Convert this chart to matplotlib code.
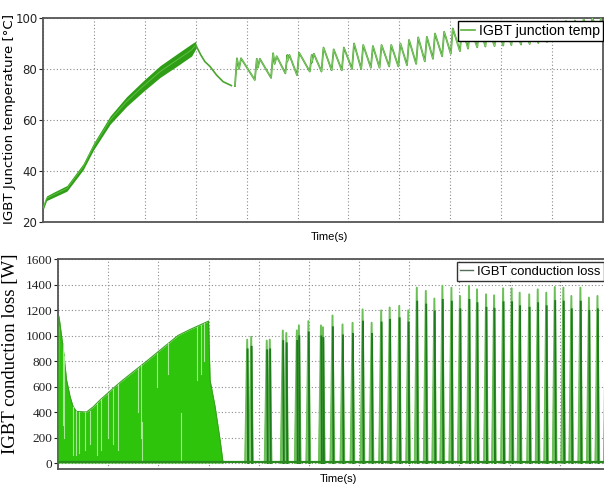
import numpy as np
import matplotlib.pyplot as plt
from matplotlib.lines import Line2D

# ---- IGBT junction temperature ----
# heating ramp (drawn as a thick band)
ramp_t = [0.0, 0.07, 0.20, 0.47, 0.79, 0.99, 1.32, 1.64, 1.97, 2.30, 2.63, 2.92, 3.0]
ramp_temp = [25.4, 29.3, 30.6, 33.2, 41.7, 49.5, 60.0, 67.2, 73.3, 79.0, 83.5, 87.5, 89.4]
ramp_half = [0.8, 0.9, 1.0, 1.1, 1.2, 1.3, 1.6, 1.9, 2.1, 2.3, 2.4, 2.4, 1.5]

# cooling after the ramp
cool_t = [3.0, 3.1, 3.18, 3.28, 3.41, 3.54, 3.70]
cool_temp = [89.4, 85.5, 82.9, 81.0, 77.6, 75.0, 73.5]

# pulse section
pulse_t = [3.77, 3.85, 4.16, 4.22, 4.48, 4.55, 4.76, 4.80, 4.99, 5.24, 5.28,
           5.47, 5.67, 5.87, 6.07, 6.25, 6.44, 6.61, 6.80, 6.98, 7.15, 7.33,
           7.50, 7.66, 7.84, 8.01, 8.19, 8.35, 8.53, 8.69, 8.87, 9.04, 9.20,
           9.39, 9.56, 9.73, 9.90, 10.07, 10.23, 10.41, 10.58, 10.75, 10.92]
temp_trough = [73.3, 80, 75.7, 80.5, 76.5, 82, 78.3, 83, 77.6, 79, 82.5,
               79, 79.5, 79.5, 80, 80, 80.5, 80.5, 81, 81, 81.5, 82,
               83, 84, 85, 86, 87, 88, 88.5, 88.8, 89, 89.2, 89.4,
               89.6, 89.8, 90.2, 90.6, 91, 91.5, 92, 92.5, 93, 93.5]
temp_peak = [84.2, 84.2, 84, 84, 86.2, 85, 85.5, 85.5, 86.4, 85.5, 86,
             88.4, 87.7, 88.4, 90, 89.4, 89, 89.4, 89.4, 90, 91.4, 92.4,
             92.6, 93.9, 94.6, 95.9, 96.5, 96.5, 97, 97, 97.2, 97.4, 97.6,
             97.8, 98, 98.2, 98.4, 98.6, 98.8, 99, 99.5, 100, 100]

# ---- IGBT conduction loss ----
loss_env_t = [0.0, 0.02, 0.106, 0.17, 0.24, 0.30, 0.37, 0.57, 0.70, 0.84,
              1.14, 1.29, 1.77, 2.39, 2.63, 3.0, 3.03, 3.13, 3.23, 3.29]
loss_env = [0, 1150, 890, 653, 522, 443, 404, 400, 440, 495,
            600, 650, 800, 1000, 1047, 1113, 650, 443, 180, 0]
loss_peak = [968, 990, 960, 968, 1039, 1020, 1040, 1080, 1113, 1079, 1065,
             1157, 1087, 1100, 1205, 1100, 1197, 1220, 1233, 1197, 1375, 1350,
             1290, 1390, 1375, 1310, 1390, 1362, 1323, 1315, 1370, 1370, 1336,
             1323, 1362, 1336, 1380, 1375, 1310, 1375, 1297, 1310, 1300]

# light streaks inside the dense switching region
streak_t = [0.09, 0.12, 0.30, 0.36, 0.42, 0.54, 0.63, 0.77, 0.86, 0.99, 1.09,
            1.19, 1.60, 1.66, 1.67, 1.97, 2.20, 2.46, 2.77, 2.85, 2.90]
streak_top = [1100, 1000, 440, 410, 400, 400, 410, 470, 500, 550, 580,
              620, 790, 810, 320, 870, 950, 390, 1070, 1080, 1100]
streak_bot = [300, 200, 60, 60, 80, 100, 150, 60, 100, 200, 150,
              100, 400, 200, 20, 600, 700, 20, 650, 700, 800]

temp_ticks = [20, 40, 60, 80, 100]
loss_ticks = [0, 200, 400, 600, 800, 1000, 1200, 1400, 1600]

grid_kw = dict(color="#8a8a8a", linestyle=(0, (1, 2)), linewidth=0.8)

fig = plt.figure(figsize=(6.04, 4.88), dpi=100)

# ---------------- top panel ----------------
ax1 = fig.add_axes([43 / 604, 266 / 488, 560 / 604, 204 / 488])
lo = [m - h for m, h in zip(ramp_temp, ramp_half)]
hi = [m + h for m, h in zip(ramp_temp, ramp_half)]
ax1.fill_between(ramp_t, lo, hi, color="#2f9e16", lw=0, zorder=2)
ax1.plot(ramp_t, ramp_temp, color="#5cc040", lw=0.7, zorder=3)
ax1.plot(cool_t, cool_temp, color="#4aa52e", lw=1.2, zorder=3)

px, py = [], []
for t, lo_v, hi_v in zip(pulse_t, temp_trough, temp_peak):
    px += [t, t + 0.04]
    py += [lo_v, hi_v]
ax1.plot(px, py, color="#4aa52e", lw=1.3, zorder=3)
ax1.plot(px, py, color="#9ad886", lw=0.4, zorder=3)

ax1.set_xlim(0, 11)
ax1.set_ylim(20, 100)
ax1.set_yticks(temp_ticks)
ax1.set_xticks(range(0, 12))
ax1.tick_params(axis="x", length=0, labelbottom=False)
ax1.tick_params(axis="y", length=3, labelsize=8.5, pad=1, colors="#222")
ax1.grid(True, **grid_kw)
for s in ax1.spines.values():
    s.set_color("#555")
    s.set_linewidth(1.3)
ax1.set_ylabel("IGBT Junction temperature [°C]", fontsize=9.6,
               family="DejaVu Sans")
ax1.yaxis.set_label_coords(-0.048, 0.507)
ax1.set_xlabel("Time(s)", fontsize=8, family=["Liberation Sans", "DejaVu Sans"])
ax1.xaxis.label.set_va("top")
ax1.xaxis.set_label_coords(0.511, -0.05)

h1 = Line2D([], [], color="#5cb040", lw=1.2)
leg1 = ax1.legend([h1], ["IGBT junction temp"], loc="upper right",
                  bbox_to_anchor=(1.0, 0.985), frameon=True, fancybox=False,
                  handlelength=1.0, handletextpad=0.3, borderpad=0.2,
                  borderaxespad=0.0,
                  prop={"family": ["Liberation Sans", "DejaVu Sans"], "size": 10.2})
leg1.get_frame().set_edgecolor("black")
leg1.get_frame().set_linewidth(1.0)
leg1.get_frame().set_alpha(1)
leg1.set_zorder(10)

# ---------------- bottom panel ----------------
ax2 = fig.add_axes([58 / 604, 19 / 488, 552 / 604, 210 / 488])
ax2.fill_between(loss_env_t, 0, loss_env, color="#2ec40c", lw=0, zorder=2)
ax2.plot(loss_env_t, loss_env, color="#3aa022", lw=0.8, zorder=3)
env_at = np.interp(streak_t, loss_env_t, loss_env)
for t, top, bot, e in zip(streak_t, streak_top, streak_bot, env_at):
    ax2.plot([t, t], [bot, min(top, e)], color="#a6e893", lw=0.8, zorder=3)

for t, p in zip(pulse_t, loss_peak):
    ax2.fill([t - 0.055, t, t + 0.045], [0, p, 0], color="#8ad478", lw=0, zorder=3)
    ax2.plot([t - 0.04, t, t + 0.035], [0, p, 0], color="#6cc058", lw=1.4, zorder=3)
    ax2.plot([t + 0.008, t + 0.018], [p * 0.92, 0], color="#1d7a1d", lw=1.4, zorder=4)

ax2.plot([0, 11], [8, 8], color="#2b8a1f", lw=1.6, zorder=5)

ax2.set_xlim(0, 11)
ax2.set_ylim(-47, 1600)
ax2.set_yticks(loss_ticks)
ax2.set_xticks(range(0, 12))
ax2.tick_params(axis="x", length=0, labelbottom=False)
ax2.tick_params(axis="y", length=3, labelsize=9.5, pad=1, colors="#222")
for lab in ax2.get_yticklabels():
    lab.set_family("Liberation Serif")
ax2.grid(True, **grid_kw)
for s in ax2.spines.values():
    s.set_color("#555")
    s.set_linewidth(1.3)
ax2.set_ylabel("IGBT conduction loss [W]", fontsize=13.5, family="Liberation Serif")
ax2.yaxis.set_label_coords(-0.071, 0.548)
ax2.set_xlabel("Time(s)", fontsize=8, family=["Liberation Sans", "DejaVu Sans"])
ax2.xaxis.label.set_va("top")
ax2.xaxis.set_label_coords(0.508, -0.025)

h2 = Line2D([], [], color="#55705a", lw=1.0)
leg2 = ax2.legend([h2], ["IGBT conduction loss"], loc="upper left",
                  bbox_to_anchor=(399 / 552, 0.985), frameon=True, fancybox=False,
                  handlelength=1.0, handletextpad=0.3, borderpad=0.25,
                  borderaxespad=0.0,
                  prop={"family": ["Liberation Sans", "DejaVu Sans"], "size": 9.4})
leg2.get_frame().set_edgecolor("black")
leg2.get_frame().set_linewidth(1.0)
leg2.set_zorder(10)

fig.savefig("out.png", dpi=100)
